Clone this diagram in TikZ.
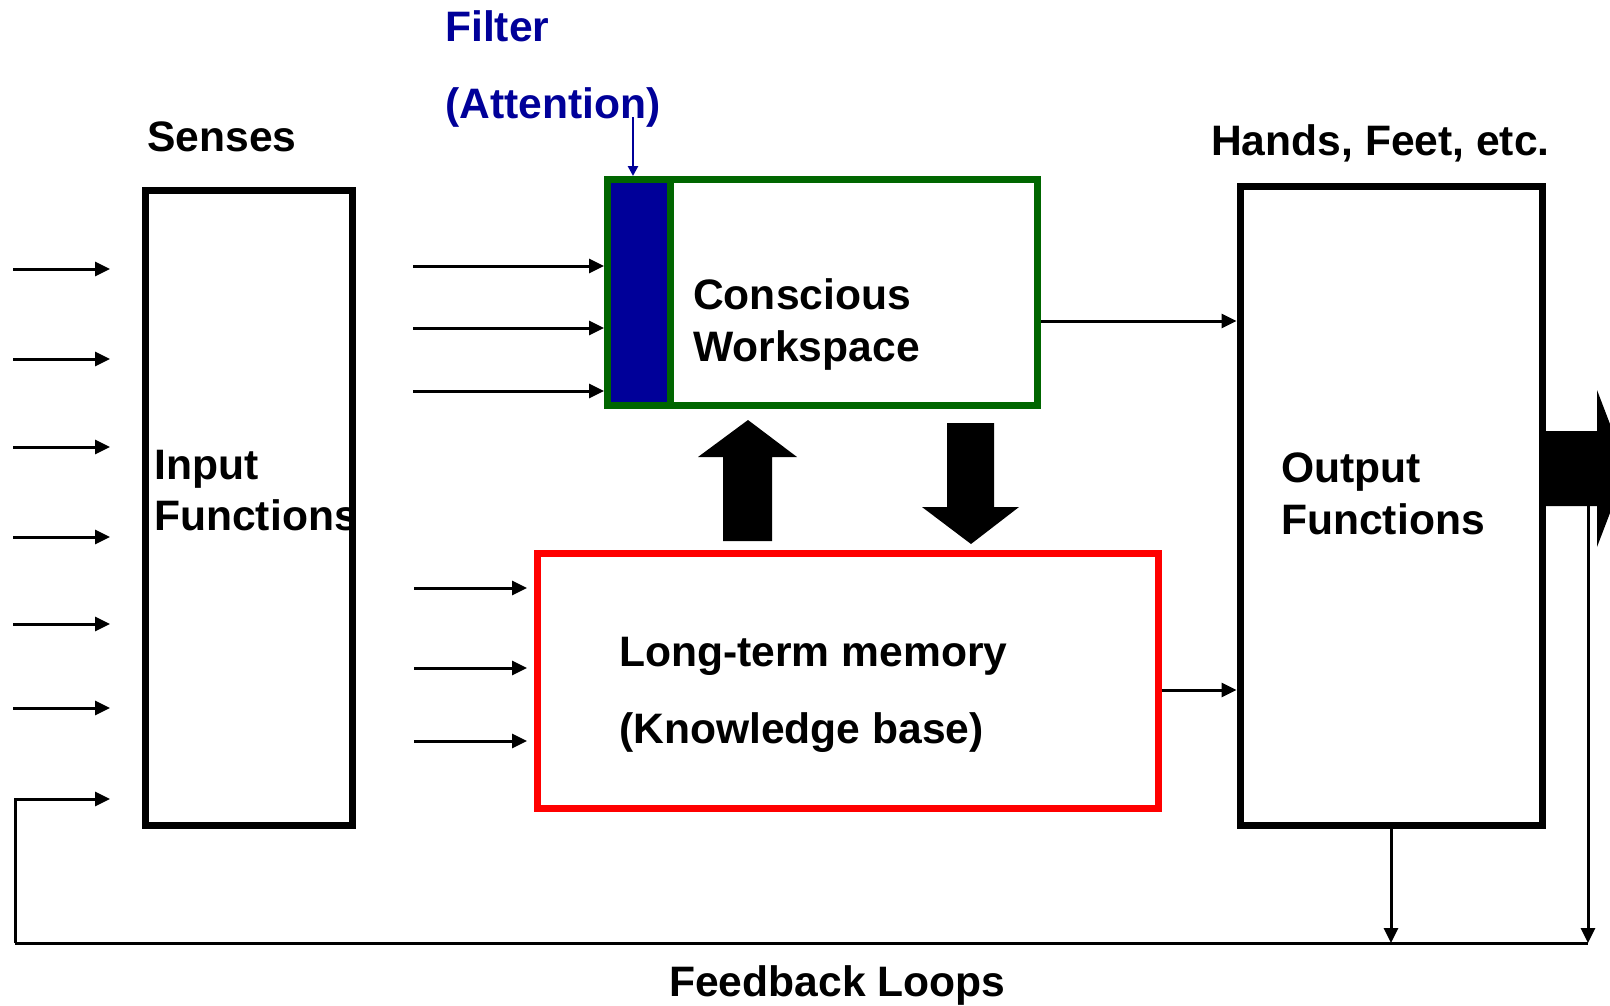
\documentclass[tikz,border=0pt]{standalone}
\usepackage{fontspec}
\setmainfont{Liberation Sans}
\usetikzlibrary{arrows.meta,calc}

\definecolor{wsgreen}{RGB}{0,102,0}
\definecolor{filterblue}{RGB}{0,0,153}

\begin{document}
\begin{tikzpicture}[
    x=1pt, y=-1pt,
    font=\bfseries\fontsize{42.6}{51.5}\selectfont,
    block/.style={draw, line width=7pt, inner sep=0pt},
    workspace/.style={draw=wsgreen, line width=7pt, inner sep=0pt},
    filterbox/.style={draw=wsgreen, fill=filterblue, line width=7pt, inner sep=0pt},
    memory/.style={draw=red, line width=7pt, inner sep=0pt},
    label/.style={anchor=west, inner sep=0pt, align=left},
    line/.style={-{Triangle[length=15pt,width=14pt]}, line width=3pt},
    fline/.style={-{Triangle[length=10pt,width=10pt]}, line width=2.5pt, draw=filterblue}
]
\clip (0,0) rectangle (1610,1005);

% Boxes
\node[block, minimum width=207pt, minimum height=635pt] (inp) at (249,507.5) {};
\node[workspace, minimum width=430pt, minimum height=226pt] (ws) at (822.5,292.5) {};
\node[filterbox, minimum width=63pt, minimum height=226pt] (filt) at (639,292.5) {};
\node[memory, minimum width=621pt, minimum height=255pt] (ltm) at (848,681) {};
\node[block, minimum width=302pt, minimum height=639pt] (out) at (1391,505.5) {};

% Texts
\node[label, text=filterblue] (filter) at (445,26) {Filter};
\node[label, text=filterblue] (attn) at (445,107) {(Attention)};
\node[label] (senses) at (147,137) {Senses};
\node[label] (hands) at (1211,143) {Hands, Feet, etc.};
\node[label] (wstext) at (693,324.5) {Conscious\\Workspace};
\node[label] (intext) at (154,490.5) {Input\\Functions};
\node[label] (outtext) at (1281,494) {Output\\Functions};
\node[label, font=\bfseries\fontsize{42.6}{77}\selectfont] (ltmtext) at (619,694.5) {Long-term memory\\(Knowledge base)};
\node[label] (fbtext) at (669,985) {Feedback Loops};

% Sense inputs
\foreach \y in {269,359,447,537,624,708}
    \draw[line] ($(inp.west|-0,\y)+(-129,0)$) -- ++(97,0);

% Inputs into the workspace and the memory
\foreach \y in {266,328,391}
    \draw[line] ($(ws.west|-0,\y)+(-191,0)$) -- (ws.west|-0,\y);
\foreach \y in {588,668,741}
    \draw[line] ($(ltm.west|-0,\y)+(-120,0)$) -- ++(113,0);

% Attention arrow
\draw[fline] ($(filt.north|-0,117)+(-6,0)$) -- ($(filt.north)+(-6,0)$);

% Outputs
\draw[line] (ws.east|-0,321) -- (out.west|-0,321);
\draw[line] (ltm.east|-0,690) -- (out.west|-0,690);

% Exchange between workspace and memory
\fill (748,420) -- (797,457) -- (772,457) -- (772,541) -- (723,541) -- (723,457) -- (698,457) -- cycle;
\fill (947,423) -- (994,423) -- (994,507) -- (1019,507) -- (971,544) -- (922,507) -- (947,507) -- cycle;

% Action arrow
\fill (out.east|-0,431) -- (1597,431) -- (1597,390) -- (1627,468.5) -- (1597,547) -- (1597,506) -- (out.east|-0,506) -- cycle;

% Feedback loops
\coordinate (fbL) at (15,943);
\coordinate (fbR) at (1588,943);
\coordinate (act) at (1588,506);
\draw[line width=3pt] (fbL) -- (fbR);
\draw[line] (act) -- (fbR);
\draw[line] (out.south) -- (out.south|-fbR);
\draw[line] (fbL) |- ($(inp.west|-0,799)+(-32,0)$);

\end{tikzpicture}
\end{document}
